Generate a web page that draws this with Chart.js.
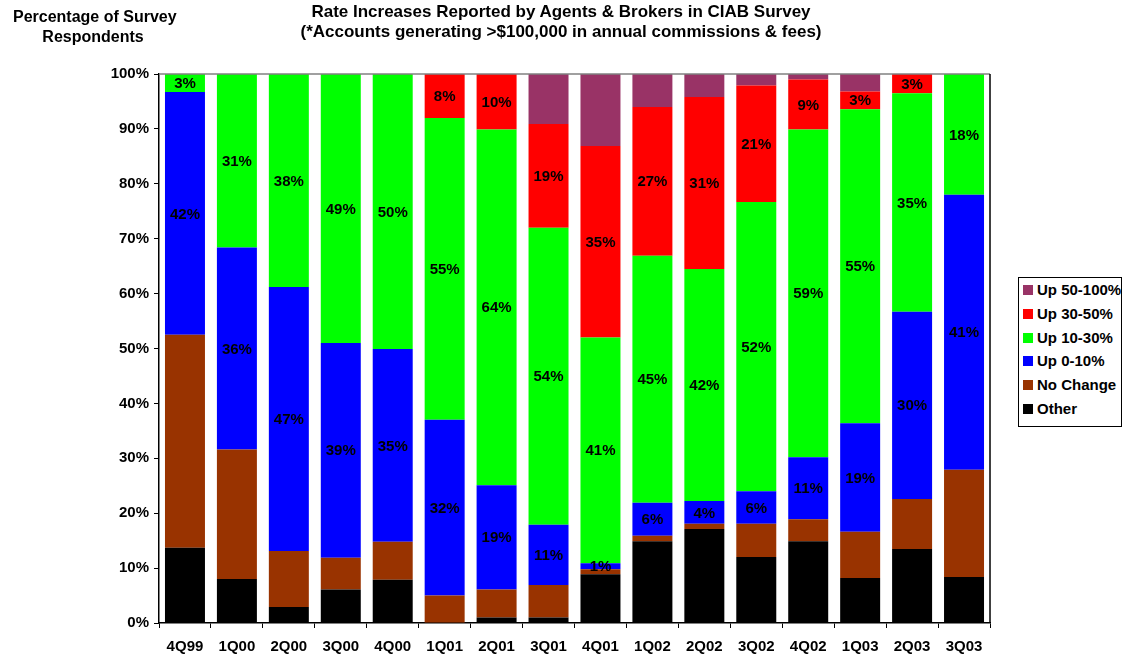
<!DOCTYPE html>
<html>
<head>
<meta charset="utf-8">
<script src="https://cdn.jsdelivr.net/npm/chart.js@4.4.1/dist/chart.umd.min.js"></script>
<style>
  html, body { margin: 0; padding: 0; background: #fff; }
  #wrap { position: relative; width: 1125px; height: 658px; font-family: "Liberation Sans", Arial, sans-serif; }
  canvas { position: absolute; left: 0; top: 0; }
  .ttl { position: absolute; font-weight: bold; color: #000; text-align: center; white-space: nowrap; }
  #legend { position: absolute; left: 1018px; top: 277px; width: 104px; height: 150px; border: 1px solid #000; box-sizing: border-box; background: #fff; }
  .li { position: absolute; left: 4px; font-weight: bold; font-size: 15px; white-space: nowrap; line-height: 18px; }
  .sw { display: inline-block; width: 10px; height: 10px; margin-right: 4px; vertical-align: 0px; }
</style>
</head>
<body>
<div id="wrap">
  <canvas id="c" width="1125" height="658"></canvas>
  <div class="ttl" style="left:13px; width:160px; top:7px; font-size:16px; line-height:20px;">Percentage of Survey<br>Respondents</div>
  <div class="ttl" style="left:261px; width:600px; top:2px; font-size:17px; line-height:20px;">Rate Increases Reported by Agents &amp; Brokers in CIAB Survey<br>(*Accounts generating &gt;$100,000 in annual commissions &amp; fees)</div>
  <div id="legend"></div>
</div>
<script>
const categories = ['4Q99','1Q00','2Q00','3Q00','4Q00','1Q01','2Q01','3Q01','4Q01','1Q02','2Q02','3Q02','4Q02','1Q03','2Q03','3Q03'];

const seriesNames = ['Other','No Change','Up 0-10%','Up 10-30%','Up 30-50%','Up 50-100%'];
const seriesColors = ['#000000','#993300','#0000FF','#00FF00','#FF0000','#993366'];

const other    = [13.7, 8.0, 2.9, 6.1, 7.9, 0.0, 1.0, 1.0, 8.9, 14.9, 17.1, 12.0, 14.9, 8.2, 13.5, 8.4];
const noChange = [38.8, 23.6, 10.2, 5.8, 6.9, 5.0, 5.1, 5.9, 0.9, 1.0, 1.0, 6.1, 4.0, 8.4, 9.1, 19.5];
const up0_10   = [44.2, 36.8, 48.1, 39.1, 35.1, 32.0, 19.0, 11.0, 1.1, 6.0, 4.1, 5.9, 11.3, 19.8, 34.1, 50.1];
const up10_30  = [3.3, 31.6, 38.8, 49.0, 50.1, 55.0, 64.8, 54.1, 41.1, 45.0, 42.3, 52.7, 59.7, 57.2, 39.8, 22.0];
const up30_50  = [0, 0, 0, 0, 0, 8.0, 10.1, 18.9, 34.9, 27.1, 31.3, 21.2, 9.1, 3.2, 3.5, 0];
const up50_100 = [0, 0, 0, 0, 0, 0, 0, 9.1, 13.1, 6.0, 4.2, 2.1, 1.0, 3.2, 0, 0];

const up0_10Labels  = ['42%','36%','47%','39%','35%','32%','19%','11%','1%','6%','4%','6%','11%','19%','30%','41%'];
const up10_30Labels = ['3%','31%','38%','49%','50%','55%','64%','54%','41%','45%','42%','52%','59%','55%','35%','18%'];
const up30_50Labels = ['','','','','','8%','10%','19%','35%','27%','31%','21%','9%','3%','3%',''];

const yTicks = [0,10,20,30,40,50,60,70,80,90,100];

const seriesData = [other, noChange, up0_10, up10_30, up30_50, up50_100];
const seriesLabels = [null, null, up0_10Labels, up10_30Labels, up30_50Labels, null];

const FONT = '"Liberation Sans", Arial, sans-serif';

const datasets = seriesNames.map((n, i) => ({
  label: n,
  data: seriesData[i],
  backgroundColor: seriesColors[i],
  borderWidth: 0,
  categoryPercentage: 1.0,
  barPercentage: 0.77
}));

const labelPlugin = {
  id: 'segLabels',
  afterDatasetsDraw(chart) {
    const ctx = chart.ctx;
    ctx.save();
    ctx.font = 'bold 15px ' + FONT;
    ctx.fillStyle = '#000';
    ctx.textAlign = 'center';
    ctx.textBaseline = 'middle';
    chart.data.datasets.forEach((ds, di) => {
      const labs = seriesLabels[di];
      if (!labs) return;
      const meta = chart.getDatasetMeta(di);
      meta.data.forEach((el, i) => {
        const t = labs[i];
        if (!t) return;
        const y = (el.y + el.base) / 2;
        ctx.fillText(t, el.x, y + 1);
      });
    });
    ctx.restore();
  }
};

const framePlugin = {
  id: 'frame',
  afterDraw(chart) {
    const a = chart.chartArea, ctx = chart.ctx;
    ctx.save();
    ctx.strokeStyle = '#808080';
    ctx.lineWidth = 1.5;
    ctx.beginPath();
    ctx.moveTo(a.left, a.top);
    ctx.lineTo(a.right, a.top);
    ctx.stroke();
    ctx.strokeStyle = '#000';
    ctx.lineWidth = 1.5;
    ctx.beginPath();
    ctx.moveTo(a.right, a.top);
    ctx.lineTo(a.right, a.bottom);
    ctx.stroke();
    ctx.restore();
  }
};

new Chart(document.getElementById('c'), {
  type: 'bar',
  data: { labels: categories, datasets },
  options: {
    responsive: false,
    animation: false,
    layout: { padding: { top: 74, right: 135, left: 0, bottom: 0 } },
    plugins: { legend: { display: false }, title: { display: false }, tooltip: { enabled: false } },
    scales: {
      x: {
        stacked: true,
        grid: { drawOnChartArea: false, drawTicks: true, tickLength: 5, color: '#000', offset: true },
        border: { color: '#000', width: 1.5 },
        ticks: { color: '#000', font: { family: FONT, size: 15, weight: 'bold' }, padding: 10, maxRotation: 0, autoSkip: false },
        afterFit(s) { s.height = 35; }
      },
      y: {
        stacked: true,
        min: 0, max: 100,
        afterBuildTicks(s) { s.ticks = yTicks.map(v => ({ value: v })); },
        grid: { drawOnChartArea: false, drawTicks: true, tickLength: 5, color: '#000' },
        border: { color: '#000', width: 1.5 },
        ticks: { color: '#000', font: { family: FONT, size: 15, weight: 'bold' }, padding: 5, callback: v => v + '%' },
        afterFit(s) { s.width = 159; }
      }
    }
  },
  plugins: [labelPlugin, framePlugin]
});

const lg = document.getElementById('legend');
const order = [5,4,3,2,1,0];
order.forEach((si, k) => {
  const d = document.createElement('div');
  d.className = 'li';
  d.style.top = (3 + k * 23.8) + 'px';
  d.innerHTML = '<span class="sw" style="background:' + seriesColors[si] + '"></span>' + seriesNames[si];
  lg.appendChild(d);
});
</script>
</body>
</html>
